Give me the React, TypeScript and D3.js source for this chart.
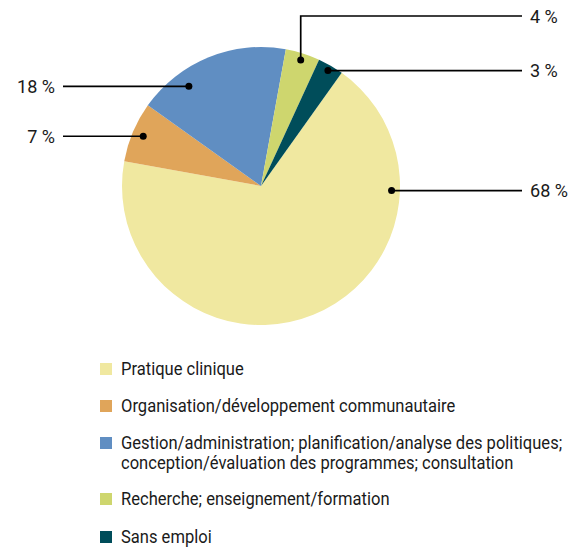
import React from "react";
import * as d3 from "d3";

const categories = [
  "Pratique clinique",
  "Organisation/développement communautaire",
  "Gestion/administration; planification/analyse des politiques;\nconception/évaluation des programmes; consultation",
  "Recherche; enseignement/formation",
  "Sans emploi",
];
const values = [68, 7, 18, 4, 3];
const valueLabels = ["68 %", "7 %", "18 %", "4 %", "3 %"];
const colors = ["#F0E8A0", "#E0A55A", "#608EC2", "#CED66E", "#004D5A"];

const W = 580;
const H = 548;
const cx = 261;
const cy = 186;
const R = 139;
const FONT = "'Roboto', 'Liberation Sans', sans-serif";

// callout layout: angle offset from slice mid (deg), radius fraction, side, elbow y (optional)
const callouts = [
  { dAngle: -65.9, rf: 0.94, side: "right", elbowY: null as number | null },
  { dAngle: 0, rf: 0.92, side: "left", elbowY: null },
  { dAngle: -13.8, rf: 0.885, side: "left", elbowY: null },
  { dAngle: 0, rf: 0.95, side: "right", elbowY: 16 },
  { dAngle: 0, rf: 0.96, side: "right", elbowY: null },
];

export default function App() {
  const start = (35.5 * Math.PI) / 180;
  const pie = d3
    .pie<number>()
    .sort(null)
    .startAngle(start)
    .endAngle(start + 2 * Math.PI);
  const arcs = pie(values);
  const arc = d3.arc<d3.PieArcDatum<number>>().innerRadius(0).outerRadius(R);

  const lineRightX = 522;
  const lineLeftX = 63;
  const legendY = [369, 406, 443, 499, 537];

  return (
    <svg
      width={W}
      height={H}
      style={{ position: "absolute", left: 0, top: 0, background: "#fff" }}
      fontFamily={FONT}
    >
      <g transform={`translate(${cx},${cy})`}>
        {arcs.map((a, i) => (
          <path key={i} d={arc(a) || ""} fill={colors[i]} />
        ))}
      </g>
      {arcs.map((a, i) => {
        const c = callouts[i];
        const mid = (a.startAngle + a.endAngle) / 2 + (c.dAngle * Math.PI) / 180;
        const r = R * c.rf;
        const px = cx + r * Math.sin(mid);
        const py = cy - r * Math.cos(mid);
        let pts: [number, number][];
        let ty: number;
        if (c.side === "right") {
          if (c.elbowY != null) {
            pts = [
              [px, py],
              [px, c.elbowY],
              [lineRightX, c.elbowY],
            ];
            ty = c.elbowY;
          } else {
            pts = [
              [px, py],
              [lineRightX, py],
            ];
            ty = py;
          }
        } else {
          pts = [
            [px, py],
            [lineLeftX, py],
          ];
          ty = py;
        }
        const line = d3.line();
        return (
          <g key={i}>
            <path d={line(pts) || ""} fill="none" stroke="#000" strokeWidth={1.7} />
            <circle cx={px} cy={py} r={3.5} fill="#000" />
            <g transform={`translate(${c.side === "right" ? 530 : 55},${ty}) scale(0.95,1)`}>
              <text
                x={0}
                y={0}
                dy="0.36em"
                textAnchor={c.side === "right" ? "start" : "end"}
                fontSize={19}
                fill="#1a1a1a"
              >
                {valueLabels[i]}
              </text>
            </g>
          </g>
        );
      })}
      <g>
        {categories.map((cat, i) => {
          const lines = cat.split("\n");
          return (
            <g key={i}>
              <rect x={100} y={legendY[i] - 6} width={12} height={12} fill={colors[i]} />
              {lines.map((l, j) => (
                <g key={j} transform={`translate(121,${legendY[i] + j * 19.5}) scale(0.92,1)`}>
                  <text x={0} y={0} dy="0.36em" fontSize={18} fill="#1a1a1a">
                    {l}
                  </text>
                </g>
              ))}
            </g>
          );
        })}
      </g>
    </svg>
  );
}
